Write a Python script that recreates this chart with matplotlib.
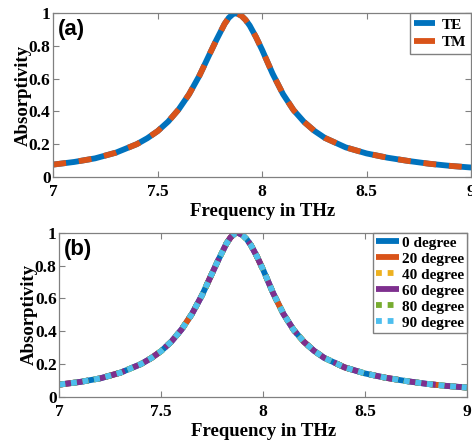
import numpy as np
import matplotlib.pyplot as plt
from matplotlib.lines import Line2D

# Absorption spectrum
freq = [7.0, 7.1, 7.2, 7.3, 7.4, 7.45, 7.5, 7.55, 7.6, 7.65, 7.7, 7.75, 7.78,
        7.8, 7.82, 7.84, 7.86, 7.87, 7.88, 7.9, 7.92, 7.94, 7.97, 8.0, 8.05,
        8.1, 8.15, 8.2, 8.25, 8.3, 8.4, 8.5, 8.6, 8.7, 8.8, 8.9, 9.0]
absorb_te = [0.075, 0.091, 0.113, 0.148, 0.200, 0.236, 0.280, 0.338, 0.412,
             0.505, 0.620, 0.755, 0.835, 0.885, 0.935, 0.972, 0.995, 1.000,
             0.998, 0.985, 0.960, 0.925, 0.855, 0.775, 0.630, 0.505, 0.408,
             0.336, 0.281, 0.238, 0.180, 0.143, 0.117, 0.097, 0.080, 0.067,
             0.057]
absorb_tm = absorb_te

angle_labels = ['0 degree', '20 degree', '40 degree', '60 degree',
                '80 degree', '90 degree']
absorb_angle = [absorb_te] * len(angle_labels)

blue = '#0072BD'
orange = '#D95319'
yellow = '#EDB120'
purple = '#7E2F8E'
green = '#77AC30'
cyan = '#4DBEEE'

serif = ['Liberation Serif', 'DejaVu Serif']
plt.rcParams['font.family'] = serif
plt.rcParams['font.weight'] = 'bold'
plt.rcParams['axes.labelweight'] = 'bold'

fig = plt.figure(figsize=(4.72, 4.41), dpi=100)
ax1 = fig.add_axes([0.113, 0.599, 0.885, 0.371])
ax2 = fig.add_axes([0.126, 0.100, 0.863, 0.372])

lw = 4.2
ax1.plot(freq, absorb_te, color=blue, lw=lw)
ax1.plot(freq, absorb_tm, color=orange, lw=lw, ls=(0, (2.2, 2.2)))

styles = [
    (blue, '-'),
    (orange, (0, (2.5, 5.5))),
    (yellow, (0, (1, 1))),
    (purple, (0, (5, 1.5))),
    (green, (0, (1, 1))),
    (cyan, (0, (1, 1))),
]
for vals, (col, ls) in zip(absorb_angle, styles):
    ax2.plot(freq, vals, color=col, lw=lw, ls=ls)

for ax, tag in ((ax1, '(a)'), (ax2, '(b)')):
    ax.set_xlim(7, 9)
    ax.set_ylim(0, 1)
    ax.set_xticks([7, 7.5, 8, 8.5, 9])
    ax.set_xticklabels(['7', '7.5', '8', '8.5', '9'])
    ax.set_yticks([0, 0.2, 0.4, 0.6, 0.8, 1])
    ax.set_yticklabels(['0', '0.2', '0.4', '0.6', '0.8', '1'])
    ax.tick_params(direction='in', top=True, right=True, length=4,
                   width=0.8, color='#808080', labelsize=12.5, pad=2)
    ax.tick_params(axis='x', pad=5)
    for sp in ax.spines.values():
        sp.set_color('#808080')
        sp.set_linewidth(0.9)
    ax.set_xlabel('Frequency in THz', fontsize=13.5, labelpad=2)
    ax.set_ylabel('Absorptivity', fontsize=13.5, labelpad=-2)
    ax.text(0.012, 0.965, tag, transform=ax.transAxes, fontsize=16,
            fontweight='bold', family=['Liberation Sans', 'DejaVu Sans'],
            va='top', ha='left')

# legend handles drawn as plain line samples
leg_a = [Line2D([], [], color=c, lw=lw, solid_capstyle='butt')
         for c in (blue, orange)]
ax1.legend(leg_a, ['TE', 'TM'], loc='upper right', fontsize=11,
           handlelength=1.35, handletextpad=0.45, borderpad=0.3,
           labelspacing=0.25, borderaxespad=0.0, fancybox=False,
           edgecolor='#808080', framealpha=1)

leg_b = []
for col, ls in styles:
    hs = '-' if ls == '-' or ls[1][0] > 1 else (0, (1, 1))
    leg_b.append(Line2D([], [], color=col, lw=lw, ls=hs,
                        solid_capstyle='butt', dash_capstyle='butt'))
ax2.legend(leg_b, angle_labels, loc='upper right', fontsize=11,
           handlelength=1.5, handletextpad=0.15, borderpad=0.2,
           labelspacing=0.15, borderaxespad=0.0, fancybox=False,
           edgecolor='#808080', framealpha=1)

fig.savefig('out.png', dpi=100)
